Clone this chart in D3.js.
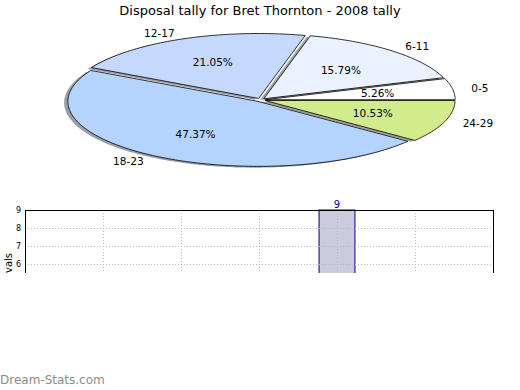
<!DOCTYPE html>
<html>
<head>
<meta charset="utf-8">
<script src="https://cdn.jsdelivr.net/npm/d3@7.9.0/dist/d3.min.js"></script>
<style>
  body { margin: 0; background: #fff; }
  svg text { font-family: "DejaVu Sans", sans-serif; }
</style>
</head>
<body>
<svg id="chart" width="520" height="390"></svg>
<script>
// data
const categories = ['0-5', '6-11', '12-17', '18-23', '24-29'];
const tally = [1, 3, 4, 9, 2];
const sliceColors = ['#ffffff', '#eaf1ff', '#c5d9ff', '#b4d4ff', '#d1eb8d'];
const yTicks = [6, 7, 8, 9];

const svg = d3.select('#chart');
const total = d3.sum(tally);

// title
svg.append('text')
  .attr('x', 260).attr('y', 15)
  .attr('text-anchor', 'middle')
  .attr('font-size', 13)
  .text('Disposal tally for Bret Thornton - 2008 tally');

// pie (flattened, exploded, with shadow)
const px = d3.scaleLinear().domain([-1, 1]).range([70.5, 450.5]);
const py = d3.scaleLinear().domain([-1, 1]).range([165, 35]);
const explode = 0.025;

let pie = d3.pie().sort(null).startAngle(0).endAngle(2 * Math.PI);
let arcData = pie(tally);

function wedgePath(d, ox, oy) {
  let mid = (d.startAngle + d.endAngle) / 2;
  let cx = explode * Math.cos(mid) + ox, cy = explode * Math.sin(mid) + oy;
  let pts = [[cx, cy]];
  let n = Math.max(4, Math.ceil((d.endAngle - d.startAngle) / 0.02));
  for (let i = 0; i <= n; i++) {
    let a = d.startAngle + (d.endAngle - d.startAngle) * i / n;
    pts.push([cx + Math.cos(a), cy + Math.sin(a)]);
  }
  return d3.line().x(p => px(p[0])).y(p => py(p[1]))(pts) + 'Z';
}

let pieG = svg.append('g');

// shadows first
arcData.forEach((d, i) => {
  let c = d3.rgb(sliceColors[i]);
  pieG.append('path')
    .attr('d', wedgePath(d, -0.02, -0.02))
    .attr('fill', d3.rgb(c.r * 0.3, c.g * 0.3, c.b * 0.3))
    .attr('fill-opacity', 0.5)
    .attr('stroke', 'none');
});

arcData.forEach((d, i) => {
  pieG.append('path')
    .attr('d', wedgePath(d, 0, 0))
    .attr('fill', sliceColors[i])
    .attr('stroke', '#000')
    .attr('stroke-width', 0.8)
    .attr('stroke-linejoin', 'round');
});

arcData.forEach((d, i) => {
  let mid = (d.startAngle + d.endAngle) / 2;
  let ex = explode * Math.cos(mid), ey = explode * Math.sin(mid);
  let lx = 1.1 * Math.cos(mid) + ex, ly = 1.1 * Math.sin(mid) + ey;
  pieG.append('text')
    .attr('x', px(lx)).attr('y', py(ly))
    .attr('dy', '0.35em')
    .attr('font-size', 10.5)
    .attr('text-anchor', lx < 0 ? 'end' : 'start')
    .text(categories[i]);
  pieG.append('text')
    .attr('x', px(0.6 * Math.cos(mid) + ex)).attr('y', py(0.6 * Math.sin(mid) + ey))
    .attr('dy', '0.35em')
    .attr('font-size', 10.5)
    .attr('text-anchor', 'middle')
    .text((tally[i] / total * 100).toFixed(2) + '%');
});

// bar chart (lower panel, cut off at the bottom)
const x = d3.scaleLinear().domain([0, 6]).range([25, 493]);
const y = d3.scaleLinear().domain([0, 9]).range([372, 210]);
const barW = 0.46;

svg.append('clipPath').attr('id', 'cut')
  .append('rect').attr('x', 0).attr('y', 195).attr('width', 520).attr('height', 78);

let bg = svg.append('g').attr('clip-path', 'url(#cut)');

bg.selectAll('rect.bar')
  .data(tally)
  .join('rect')
  .attr('class', 'bar')
  .attr('x', (d, i) => x(i + 1 - barW / 2))
  .attr('width', x(barW) - x(0))
  .attr('y', d => y(d))
  .attr('height', d => y(0) - y(d))
  .attr('fill', '#ccccdf')
  .attr('stroke', '#000080')
  .attr('stroke-width', 1);

// grid
bg.selectAll('line.hgrid')
  .data(yTicks.slice(0, -1))
  .join('line')
  .attr('x1', x(0)).attr('x2', x(6))
  .attr('y1', d => Math.round(y(d)) + 0.5).attr('y2', d => Math.round(y(d)) + 0.5)
  .attr('stroke', '#bbb').attr('stroke-dasharray', '1,2');

bg.selectAll('line.vgrid')
  .data([1, 2, 3, 4, 5])
  .join('line')
  .attr('x1', d => Math.round(x(d)) + 0.5).attr('x2', d => Math.round(x(d)) + 0.5)
  .attr('y1', y(9)).attr('y2', y(0))
  .attr('stroke', '#bbb').attr('stroke-dasharray', '1,2');

// frame
bg.append('rect')
  .attr('x', x(0) + 0.5).attr('y', y(9) + 0.5)
  .attr('width', x(6) - x(0)).attr('height', y(0) - y(9))
  .attr('fill', 'none').attr('stroke', '#000').attr('stroke-width', 1);

// y axis
let yAxis = d3.axisLeft(y).tickValues(yTicks).tickSize(0).tickPadding(4);
bg.append('g')
  .attr('transform', `translate(${x(0)},0)`)
  .call(yAxis)
  .call(g => g.select('.domain').remove())
  .call(g => g.selectAll('text').attr('font-size', 8).attr('font-family', '"DejaVu Sans", sans-serif'));

bg.append('text')
  .attr('transform', 'translate(12,263) rotate(-90)')
  .attr('text-anchor', 'middle')
  .attr('font-size', 10)
  .text('vals');

// bar value labels
bg.selectAll('text.val')
  .data(tally)
  .join('text')
  .attr('class', 'val')
  .attr('x', (d, i) => x(i + 1))
  .attr('y', d => y(d) - 2)
  .attr('text-anchor', 'middle')
  .attr('font-size', 10)
  .attr('fill', '#0000aa')
  .text(d => d);

// watermark
svg.append('text')
  .attr('x', 0).attr('y', 384)
  .attr('font-size', 12)
  .attr('fill', '#8c8c8c')
  .text('Dream-Stats.com');
</script>
</body>
</html>
